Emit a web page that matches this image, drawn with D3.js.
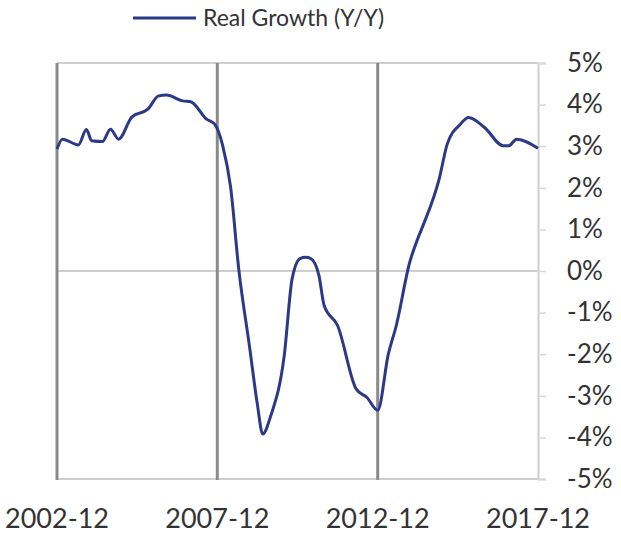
<!DOCTYPE html>
<html>
<head>
<meta charset="utf-8">
<script src="https://cdn.jsdelivr.net/npm/d3@7"></script>
<style>
  body { margin: 0; background: #fff; }
  text { font-family: Lato, "Open Sans", sans-serif; fill: #333; }
</style>
</head>
<body>
<div id="graph"></div>
<script>
// series (month, y/y real growth in %)
var dates = ["2002-12","2003-02","2003-08","2003-11","2004-01","2004-05","2004-08","2004-11",
             "2005-04","2005-10","2006-02","2006-05","2006-11","2007-02","2007-08","2007-11",
             "2008-02","2008-05","2008-08","2008-12","2009-03","2009-05","2009-08","2010-01",
             "2010-04","2010-07","2010-09","2010-11","2011-02","2011-04","2011-09","2012-04",
             "2012-08","2012-12","2013-04","2013-07","2013-12","2014-03","2014-05","2014-11",
             "2015-02","2015-07","2015-10","2016-04","2016-11","2017-01","2017-04","2017-12"]
var growth = [2.93, 3.17, 3.03, 3.40, 3.13, 3.11, 3.41, 3.17,
              3.70, 3.89, 4.21, 4.23, 4.09, 4.07, 3.65, 3.53,
              3.01, 2.01, 0.05, -1.80, -3.20, -3.92, -3.48, -2.04,
              -0.19, 0.30, 0.33, 0.30, -0.11, -0.83, -1.31, -2.84,
              -3.04, -3.35, -2.00, -1.31, 0.21, 0.77, 1.09, 2.21,
              3.05, 3.53, 3.69, 3.45, 3.01, 3.01, 3.17, 2.95]

var xTicks = ["2002-12", "2007-12", "2012-12", "2017-12"]
var yTicks = [5, 4, 3, 2, 1, 0, -1, -2, -3, -4, -5]
var seriesName = "Real Growth (Y/Y)"

var w = 621, h = 536
var pLeft = 57, pRight = 538, pTop = 63, pBottom = 479
var lineColor = "#2b3987"

var parse = d3.timeParse("%Y-%m")
var data = dates.map(function(d, i) { return {date: parse(d), value: growth[i]} })

var x = d3.scaleTime()
    .domain([parse(xTicks[0]), parse(xTicks[xTicks.length - 1])])
    .range([pLeft, pRight])
var y = d3.scaleLinear().domain([-5, 5]).range([pBottom, pTop])

var svg = d3.select("#graph").append("svg")
    .attr("width", w)
    .attr("height", h)

svg.append("rect")
    .attr("width", w).attr("height", h)
    .attr("fill", "#fff")

// top, zero and bottom horizontal rules
svg.selectAll("line.hrule")
    .data([5, 0, -5])
    .enter().append("line")
    .attr("class", "hrule")
    .attr("x1", pLeft).attr("x2", pRight)
    .attr("y1", function(d) { return y(d) })
    .attr("y2", function(d) { return y(d) })
    .attr("stroke", "#cfcfcf")
    .attr("stroke-width", 2)

// right axis with small ticks
var yAxis = d3.axisRight(y)
    .tickValues(yTicks)
    .tickSize(8)
    .tickPadding(21)
    .tickFormat(function(d) { return d + "%" })

var ya = svg.append("g")
    .attr("transform", "translate(" + pRight + ",0)")
    .call(yAxis)
ya.select(".domain").attr("stroke", "#cfcfcf").attr("stroke-width", 2)
ya.selectAll(".tick line").attr("stroke", "#d8d8d8").attr("stroke-width", 1.5)
ya.selectAll(".tick text")
    .attr("font-family", "Lato, sans-serif")
    .attr("font-size", 26)
    .attr("fill", "#2e2e2e")

// darker vertical rules at the x ticks (except the last one, which is the axis)
svg.selectAll("line.vrule")
    .data(xTicks.slice(0, 3))
    .enter().append("line")
    .attr("class", "vrule")
    .attr("x1", function(d) { return x(parse(d)) })
    .attr("x2", function(d) { return x(parse(d)) })
    .attr("y1", pTop).attr("y2", pBottom + 1)
    .attr("stroke", "#8a8a8a")
    .attr("stroke-width", 3)

// x labels
svg.selectAll("text.xlab")
    .data(xTicks)
    .enter().append("text")
    .attr("class", "xlab")
    .attr("x", function(d) { return x(parse(d)) })
    .attr("y", 528)
    .attr("text-anchor", "middle")
    .attr("font-size", 27)
    .attr("fill", "#2e2e2e")
    .text(function(d) { return d })

// the series
var line = d3.line()
    .curve(d3.curveMonotoneX)
    .x(function(d) { return x(d.date) })
    .y(function(d) { return y(d.value) })

svg.append("path")
    .datum(data)
    .attr("d", line)
    .attr("fill", "none")
    .attr("stroke", lineColor)
    .attr("stroke-width", 3)
    .attr("stroke-linejoin", "round")

// legend
var lg = svg.append("g").attr("transform", "translate(133,18)")
lg.append("line")
    .attr("x1", 0).attr("x2", 63)
    .attr("stroke", lineColor)
    .attr("stroke-width", 3)
lg.append("text")
    .attr("x", 70)
    .attr("y", 8)
    .attr("font-size", 23)
    .attr("fill", "#2e2e2e")
    .text(seriesName)
</script>
</body>
</html>
